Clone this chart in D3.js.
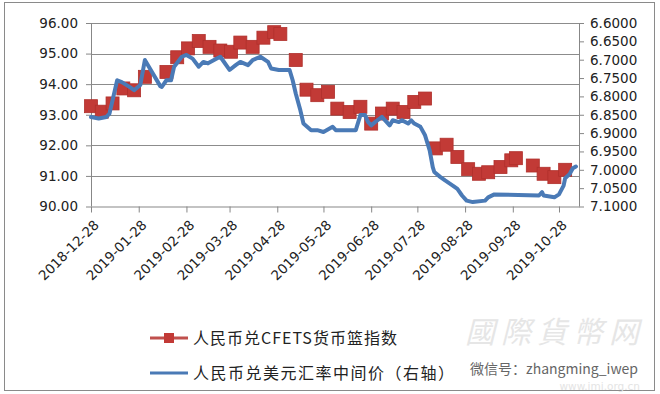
<!DOCTYPE html>
<html>
<head>
<meta charset="utf-8">
<script src="https://cdn.jsdelivr.net/npm/d3@7"></script>
<style>
  body { margin: 0; background: #fff; }
  svg { display: block; }
  .tick text { font-family: "DejaVu Sans", Verdana, sans-serif; font-size: 13.5px; fill: #222; }
  .legend text { font-family: "Noto Sans CJK SC", sans-serif; font-size: 16px; fill: #222; }
</style>
</head>
<body>
<div id="chart"></div>
<script>
// CFETS RMB basket index (left axis), weekly
var cfetsDates = ["2018-12-28","2019-01-04","2019-01-11","2019-01-18","2019-01-25","2019-02-01",
  "2019-02-15","2019-02-22","2019-03-01","2019-03-08","2019-03-15","2019-03-22","2019-03-29",
  "2019-04-04","2019-04-12","2019-04-19","2019-04-26","2019-04-30","2019-05-10","2019-05-17",
  "2019-05-24","2019-05-31","2019-06-06","2019-06-14","2019-06-21","2019-06-28","2019-07-05",
  "2019-07-12","2019-07-19","2019-07-26","2019-08-02","2019-08-09","2019-08-16","2019-08-23",
  "2019-08-30","2019-09-06","2019-09-12","2019-09-20","2019-09-27","2019-09-30","2019-10-11",
  "2019-10-18","2019-10-25","2019-11-01"];
var cfetsValues = [93.28,93.10,93.37,93.86,93.80,94.24,
  94.40,94.88,95.17,95.41,95.22,95.10,95.06,
  95.36,95.22,95.52,95.70,95.64,94.79,93.82,
  93.64,93.75,93.20,93.09,93.26,92.71,93.04,
  93.20,93.09,93.42,93.53,91.90,92.02,91.62,
  91.22,91.07,91.12,91.29,91.51,91.58,91.34,
  91.07,90.96,91.20];

// USD/CNY central parity (right axis, inverted)
var usdDates = ["2018-12-28","2019-01-02","2019-01-07","2019-01-09","2019-01-14","2019-01-17",
  "2019-01-22","2019-01-25","2019-01-29","2019-02-01","2019-02-11","2019-02-12","2019-02-15",
  "2019-02-18","2019-02-20","2019-02-25","2019-02-28","2019-03-04","2019-03-08","2019-03-11",
  "2019-03-14","2019-03-20","2019-03-22","2019-03-28","2019-04-01","2019-04-04","2019-04-09",
  "2019-04-12","2019-04-17","2019-04-22","2019-04-24","2019-04-29","2019-05-06","2019-05-08",
  "2019-05-10","2019-05-13","2019-05-15","2019-05-20","2019-05-24","2019-05-28","2019-06-03",
  "2019-06-05","2019-06-18","2019-06-21","2019-06-24","2019-06-26","2019-06-28","2019-07-02",
  "2019-07-05","2019-07-10","2019-07-12","2019-07-16","2019-07-18","2019-07-22","2019-07-24",
  "2019-07-26","2019-07-30","2019-08-02","2019-08-05","2019-08-07","2019-08-08","2019-08-12",
  "2019-08-15","2019-08-20","2019-08-23","2019-08-26","2019-08-29","2019-09-02","2019-09-10",
  "2019-09-12","2019-09-16","2019-10-15","2019-10-17","2019-10-18","2019-10-25","2019-10-28",
  "2019-10-31","2019-11-01","2019-11-04","2019-11-06","2019-11-08"];
var usdValues = [6.856,6.860,6.856,6.847,6.756,6.761,
  6.774,6.783,6.769,6.701,6.772,6.774,6.756,
  6.756,6.719,6.692,6.687,6.697,6.719,6.706,
  6.710,6.696,6.692,6.728,6.715,6.706,6.715,
  6.701,6.692,6.706,6.724,6.728,6.728,6.756,
  6.792,6.838,6.874,6.892,6.892,6.897,6.883,
  6.892,6.892,6.851,6.851,6.870,6.879,6.865,
  6.856,6.879,6.865,6.870,6.865,6.874,6.865,
  6.874,6.883,6.906,6.947,6.993,7.006,7.020,
  7.029,7.043,7.052,7.070,7.084,7.088,7.084,
  7.075,7.067,7.070,7.061,7.070,7.075,7.067,
  7.043,7.023,7.011,6.996,6.991];

var leftTicks = [90, 91, 92, 93, 94, 95, 96];
var rightTicks = [6.60, 6.65, 6.70, 6.75, 6.80, 6.85, 6.90, 6.95, 7.00, 7.05, 7.10];
var dateTicks = ["2018-12-28","2019-01-28","2019-02-28","2019-03-28","2019-04-28","2019-05-28",
  "2019-06-28","2019-07-28","2019-08-28","2019-09-28","2019-10-28"];

var legendNames = ["人民币兑CFETS货币篮指数", "人民币兑美元汇率中间价（右轴）"];

var parse = d3.timeParse("%Y-%m-%d");

var W = 660, H = 394;
var margin = {top: 23, right: 80, bottom: 187, left: 91};
var width = 579 - margin.left,
    height = 206.5 - margin.top;

var svg = d3.select("#chart").append("svg")
    .attr("width", W)
    .attr("height", H);

// outer frame
svg.append("rect")
    .attr("x", 4.5).attr("y", 2.5)
    .attr("width", 650).attr("height", 388)
    .attr("fill", "#fff")
    .attr("stroke", "#8a8a8a");

var g = svg.append("g")
    .attr("transform", "translate(" + margin.left + "," + margin.top + ")");

var x = d3.scaleTime()
    .domain([parse("2018-12-28"), parse("2019-11-10")])
    .range([0, width]);
var yL = d3.scaleLinear().domain([90, 96]).range([height, 0]);
var yR = d3.scaleLinear().domain([6.6, 7.1]).range([0, height]);

var axisColor = "#878787";

// gridlines
g.append("g").selectAll("line")
    .data(leftTicks.slice(1))
    .enter().append("line")
    .attr("x1", 0).attr("x2", width)
    .attr("y1", d => Math.round(yL(d)) + 0.5)
    .attr("y2", d => Math.round(yL(d)) + 0.5)
    .attr("stroke", "#8c8c8c")
    .attr("stroke-width", 1);

// left axis
var gl = g.append("g")
    .call(d3.axisLeft(yL).tickValues(leftTicks).tickFormat(d3.format(".2f")).tickSize(5).tickPadding(8));

// right axis
var gr = g.append("g")
    .attr("transform", "translate(" + width + ",0)")
    .call(d3.axisRight(yR).tickValues(rightTicks).tickFormat(d3.format(".4f")).tickSize(5).tickPadding(6));

// bottom axis
var gb = g.append("g")
    .attr("transform", "translate(0," + height + ")")
    .call(d3.axisBottom(x).tickValues(dateTicks.map(parse))
        .tickFormat(d3.timeFormat("%Y-%m-%d")).tickSize(6).tickSizeOuter(0));
gb.selectAll("text")
    .attr("y", 0).attr("x", 0).attr("dy", "0.35em")
    .style("text-anchor", "end")
    .attr("transform", "translate(5,16) rotate(-45)");

[gl, gr, gb].forEach(function(a) {
    a.selectAll("path, line").attr("stroke", axisColor);
    a.select(".domain").attr("stroke", axisColor);
});
gl.select(".domain").attr("d", "M0.5," + height + "V0");
gr.select(".domain").attr("d", "M0.5," + height + "V0");

// CFETS squares
var cfets = cfetsDates.map((d, i) => ({date: parse(d), value: cfetsValues[i]}));
var sq = 13;
g.append("g").selectAll("rect")
    .data(cfets)
    .enter().append("rect")
    .attr("x", d => x(d.date) - sq / 2)
    .attr("y", d => yL(d.value) - sq / 2)
    .attr("width", sq)
    .attr("height", sq)
    .attr("fill", "#c23a36")
    .attr("stroke", "#b0302c")
    .attr("stroke-width", 0.8);

// USD/CNY line
var usd = usdDates.map((d, i) => ({date: parse(d), value: usdValues[i]}));
var line = d3.line()
    .x(d => x(d.date))
    .y(d => yR(d.value));
g.append("path")
    .datum(usd)
    .attr("fill", "none")
    .attr("stroke", "#4a7ab6")
    .attr("stroke-width", 4)
    .attr("stroke-linejoin", "round")
    .attr("stroke-linecap", "round")
    .attr("d", line);

// legend
var legend = svg.append("g").attr("class", "legend");
var leg1 = legend.append("g").attr("transform", "translate(150,338)");
leg1.append("line").attr("x1", 0).attr("x2", 38).attr("stroke", "#c0504d").attr("stroke-width", 3);
leg1.append("rect").attr("x", 14).attr("y", -5).attr("width", 10).attr("height", 10).attr("fill", "#c23a36");
leg1.append("text").attr("x", 43).attr("dy", "0.35em").style("letter-spacing", "1px").text(legendNames[0]);

var leg2 = legend.append("g").attr("transform", "translate(150,373)");
leg2.append("line").attr("x1", 0).attr("x2", 38).attr("stroke", "#4a7ab6").attr("stroke-width", 3);
leg2.append("text").attr("x", 43).attr("dy", "0.35em").style("letter-spacing", "1.5px").text(legendNames[1]);

// watermark
svg.append("text")
    .attr("x", 470).attr("y", 369).attr("dy", "0.35em")
    .style("font-family", "'Noto Sans CJK SC', sans-serif")
    .style("font-size", "14px").style("fill", "#666")
    .text("微信号：zhangming_iwep");
svg.append("text")
    .attr("x", 645).attr("y", 343).attr("text-anchor", "end")
    .style("font-family", "'Noto Sans CJK TC', serif")
    .style("font-size", "30px").style("font-style", "italic").style("fill", "#e6e6e6")
    .style("letter-spacing", "6px")
    .text("國際貨幣网");
svg.append("text")
    .attr("x", 640).attr("y", 389.5).attr("text-anchor", "end")
    .style("font-family", "'DejaVu Sans', sans-serif")
    .style("font-size", "10.5px").style("fill", "#e4e4e4")
    .text("www.imi.org.cn");
</script>
</body>
</html>
